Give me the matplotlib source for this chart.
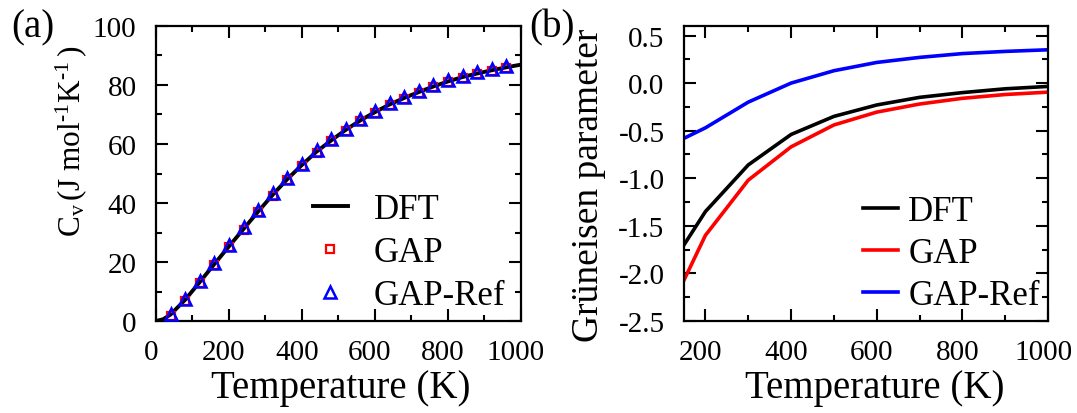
import matplotlib
matplotlib.use("Agg")
import matplotlib.pyplot as plt
from matplotlib.ticker import MultipleLocator, FormatStrFormatter
from matplotlib.transforms import ScaledTranslation

plt.rcParams['font.family'] = ['Liberation Serif', 'DejaVu Serif']
plt.rcParams['mathtext.fontset'] = 'custom'
plt.rcParams['mathtext.rm'] = 'Liberation Serif'
plt.rcParams['mathtext.it'] = 'Liberation Serif:italic'

# Panel (a): heat capacity
T_dft_a = [0, 20, 40, 80, 120, 160, 200, 240, 280, 320, 360, 400, 440, 480, 520, 560,
           600, 640, 680, 720, 760, 800, 840, 880, 920, 960, 1000]
cv_dft = [0.0, 0.6, 2.2, 7.2, 13.2, 19.3, 25.3, 31.2, 37.1, 42.8, 48.1, 52.9, 57.4, 61.2,
          64.8, 68.0, 70.8, 73.4, 75.6, 77.6, 79.5, 81.2, 82.7, 83.9, 85.0, 86.0, 86.9]
T_pts = [40, 80, 120, 160, 200, 240, 280, 320, 360, 400, 440, 480, 520, 560, 600, 640,
         680, 720, 760, 800, 840, 880, 920, 960]
cv_gap = [1.8, 6.9, 12.9, 19.0, 25.0, 30.9, 36.8, 42.5, 47.8, 52.6, 57.1, 60.9, 64.5, 67.7,
          70.5, 73.1, 75.3, 77.3, 79.2, 80.9, 82.4, 83.6, 84.7, 85.7]
cv_gapref = [2.4, 7.6, 13.6, 19.8, 25.8, 31.7, 37.6, 43.3, 48.6, 53.3, 57.9, 61.6, 65.2, 68.4,
             71.2, 73.8, 76.0, 78.0, 79.9, 81.6, 83.1, 84.3, 85.3, 86.4]

# Panel (b): Grüneisen parameter
T_b = [150, 200, 300, 400, 500, 600, 700, 800, 900, 1000]
g_dft = [-1.70, -1.35, -0.86, -0.54, -0.35, -0.23, -0.15, -0.10, -0.06, -0.035]
g_gap = [-2.07, -1.60, -1.02, -0.67, -0.44, -0.305, -0.22, -0.16, -0.12, -0.095]
g_gapref = [-0.58, -0.47, -0.20, 0.0, 0.13, 0.217, 0.27, 0.31, 0.333, 0.35]

fig = plt.figure(figsize=(10.77, 4.14), dpi=100)
axa = fig.add_axes([0.1448, 0.2222, 0.3389, 0.7126])
axb = fig.add_axes([0.6351, 0.2222, 0.3380, 0.7126])

tick_fs = 21
label_fs = 28
leg_fs = 25

# (a)
axa.plot(T_dft_a, cv_dft, color='black', lw=2.8, label='DFT', zorder=2)
axa.plot(T_pts, cv_gap, ls='none', marker='s', ms=5.5, mfc='none', mec='red', mew=1.6,
         label='GAP', zorder=3)
axa.plot(T_pts, cv_gapref, ls='none', marker='^', ms=8.5, mfc='none', mec='blue', mew=1.8,
         label='GAP-Ref', zorder=4)
axa.set_xlim(0, 1000)
axa.set_ylim(0, 100)
axa.xaxis.set_major_locator(MultipleLocator(200))
axa.xaxis.set_minor_locator(MultipleLocator(100))
axa.yaxis.set_major_locator(MultipleLocator(20))
axa.yaxis.set_minor_locator(MultipleLocator(10))
axa.set_xlabel('Temperature (K)', fontsize=label_fs)
axa.set_ylabel(r'$\mathrm{C}_\mathrm{v}\,(\mathrm{J\ mol}^{\text{-1}}\mathrm{K}^{\text{-1}}\,)$',
               fontsize=22.5)
axa.legend(loc='upper left', bbox_to_anchor=(0.43, 0.433), frameon=False, fontsize=leg_fs,
           handlelength=1.0, handletextpad=0.75, labelspacing=0.28, borderaxespad=0,
           borderpad=0)

# (b)
axb.plot(T_b, g_dft, color='black', lw=2.6, label='DFT')
axb.plot(T_b, g_gap, color='red', lw=2.6, label='GAP')
axb.plot(T_b, g_gapref, color='blue', lw=2.6, label='GAP-Ref')
axb.set_xlim(150, 1000)
axb.set_ylim(-2.5, 0.6)
axb.xaxis.set_major_locator(MultipleLocator(200))
axb.xaxis.set_minor_locator(MultipleLocator(100))
axb.yaxis.set_major_locator(MultipleLocator(0.5))
axb.yaxis.set_minor_locator(MultipleLocator(0.25))
axb.yaxis.set_major_formatter(FormatStrFormatter('%.1f'))
axb.set_xlabel('Temperature (K)', fontsize=label_fs)
axb.set_ylabel('Grüneisen parameter', fontsize=27)
axb.legend(loc='upper left', bbox_to_anchor=(0.492, 0.428), frameon=False, fontsize=leg_fs,
           handlelength=1.0, handletextpad=0.3, labelspacing=0.26, borderaxespad=0,
           borderpad=0)

shift = ScaledTranslation(-5 / 100, 0, fig.dpi_scale_trans)
for ax in (axa, axb):
    for s in ax.spines.values():
        s.set_linewidth(1.6)
    ax.tick_params(which='both', direction='in', top=True, right=True, width=1.5,
                   labelsize=tick_fs)
    ax.tick_params(which='major', length=8.5)
    ax.tick_params(which='minor', length=4.5)
    ax.tick_params(axis='x', which='both', pad=13)
    ax.tick_params(axis='y', which='both', pad=14)
    ax.xaxis.label.set_va('baseline')
    ax.yaxis.label.set_va('center')
    for lab in ax.get_xticklabels():
        lab.set_transform(lab.get_transform() + shift)

axa.xaxis.set_label_coords(0.505, -0.258)
axb.xaxis.set_label_coords(0.525, -0.258)
axa.yaxis.set_label_coords(-0.232, 0.612)
axb.yaxis.set_label_coords(-0.262, 0.464)

fig.text(0.0109, 0.9106, '(a)', fontsize=28, va='baseline', ha='left')
fig.text(0.4910, 0.9106, '(b)', fontsize=28, va='baseline', ha='left')

fig.savefig('out.png', dpi=100)
